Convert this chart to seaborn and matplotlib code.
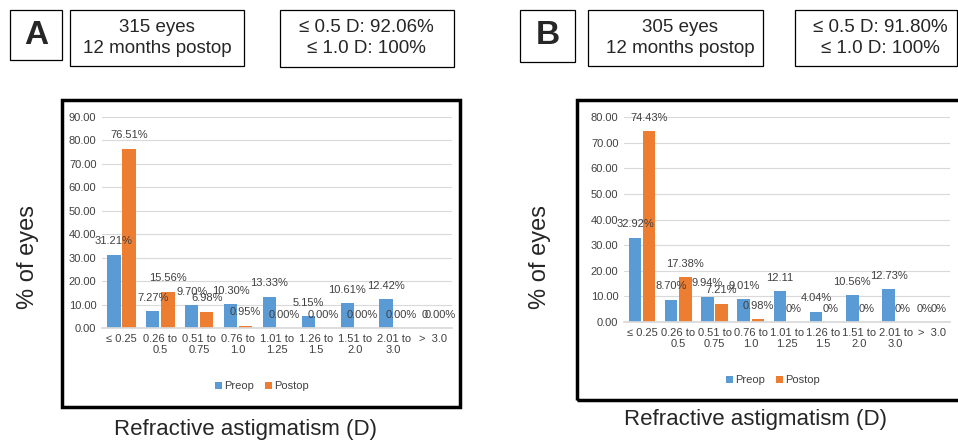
import matplotlib
matplotlib.use("Agg")
import matplotlib.pyplot as plt
from matplotlib.patches import Rectangle
import seaborn as sns
import pandas as pd

# astigmatism ranges (x categories)
ranges = ["≤ 0.25", "0.26 to\n0.5", "0.51 to\n0.75", "0.76 to\n1.0", "1.01 to\n1.25",
          "1.26 to\n1.5", "1.51 to\n2.0", "2.01 to\n3.0", ">  3.0"]

# panel A: 315 eyes
preop_a = [31.21, 7.27, 9.70, 10.30, 13.33, 5.15, 10.61, 12.42, 0.00]
postop_a = [76.51, 15.56, 6.98, 0.95, 0.00, 0.00, 0.00, 0.00, 0.00]
preop_a_labels = ["31.21%", "7.27%", "9.70%", "10.30%", "13.33%", "5.15%", "10.61%", "12.42%", "0"]
postop_a_labels = ["76.51%", "15.56%", "6.98%", "0.95%", "0.00%", "0.00%", "0.00%", "0.00%", "0.00%"]

# panel B: 305 eyes
preop_b = [32.92, 8.70, 9.94, 9.01, 12.11, 4.04, 10.56, 12.73, 0.00]
postop_b = [74.43, 17.38, 7.21, 0.98, 0.00, 0.00, 0.00, 0.00, 0.00]
preop_b_labels = ["32.92%", "8.70%", "9.94%", "9.01%", "12.11", "4.04%", "10.56%", "12.73%", "0%"]
postop_b_labels = ["74.43%", "17.38%", "7.21%", "0.98%", "0%", "0%", "0%", "0%", "0%"]

BLUE = "#5B9BD5"
ORANGE = "#ED7D31"
GRID = "#D9D9D9"
TXT = "#404040"

sns.set_theme(style="white")
plt.rcParams["font.family"] = ["Liberation Sans", "DejaVu Sans"]

W, H = 958, 447
fig = plt.figure(figsize=(W / 100, H / 100), dpi=100)


def px_box(x0, y0, x1, y1):
    # pixel box (top-left origin) -> figure fraction rect
    return [x0 / W, 1 - y1 / H, (x1 - x0) / W, (y1 - y0) / H]


def frame(x0, y0, x1, y1, lw):
    r = px_box(x0, y0, x1, y1)
    fig.patches.append(Rectangle((r[0], r[1]), r[2], r[3], transform=fig.transFigure,
                                 fill=False, edgecolor="black", linewidth=lw))


def draw_panel(ax, preop, postop, pre_lbl, post_lbl, ymax, legend_xy):
    df = pd.DataFrame({
        "range": ranges * 2,
        "pct": preop + postop,
        "group": ["Preop"] * len(ranges) + ["Postop"] * len(ranges),
    })
    sns.barplot(data=df, x="range", y="pct", hue="group", order=ranges,
                hue_order=["Preop", "Postop"], palette=[BLUE, ORANGE], saturation=1,
                width=0.78, gap=0.12, errorbar=None, linewidth=0, ax=ax)
    handles, labels = ax.get_legend_handles_labels()
    ax.get_legend().remove()
    for cont, lbls in zip(ax.containers, [pre_lbl, post_lbl]):
        ax.bar_label(cont, labels=lbls, padding=6, fontsize=8, color=TXT)
    ax.set_xlim(-0.5, len(ranges) - 0.5)
    ax.set_ylim(0, ymax)
    ax.set_yticks(range(0, ymax + 1, 10))
    ax.set_yticklabels([f"{v:.2f}" for v in range(0, ymax + 1, 10)])
    ax.yaxis.grid(True, color=GRID, linewidth=0.8)
    ax.set_axisbelow(True)
    for s in ["top", "right", "left"]:
        ax.spines[s].set_visible(False)
    ax.spines["bottom"].set_color(GRID)
    ax.tick_params(length=0, labelsize=8, colors=TXT, pad=4)
    ax.set_xlabel("")
    ax.set_ylabel("")
    fig.legend(handles, labels, loc="center", bbox_to_anchor=(legend_xy[0] / W, 1 - legend_xy[1] / H),
               ncol=2, frameon=False, fontsize=8, handlelength=0.6, handleheight=0.6,
               handletextpad=0.2, columnspacing=1.0, labelcolor=TXT)


# ---- panel A ----
axA = fig.add_axes(px_box(102, 117, 452, 328))
draw_panel(axA, preop_a, postop_a, preop_a_labels, postop_a_labels, 90, (262, 386))
frame(62, 100, 460, 407, 2.5)

# ---- panel B ----
axB = fig.add_axes(px_box(624, 117, 950, 322))
draw_panel(axB, preop_b, postop_b, preop_b_labels, postop_b_labels, 80, (773, 380))
frame(577, 100, 975, 400, 2.5)

# header boxes
frame(10, 10, 62, 60, 0.9)
frame(70, 10, 244, 66, 0.9)
frame(280, 10, 454, 67, 0.9)
frame(520, 10, 575, 62, 0.9)
frame(588, 10, 763, 66, 0.9)
frame(795, 10, 957, 66, 0.9)


def ftext(x, y, s, **kw):
    fig.text(x / W, 1 - y / H, s, ha="center", va="center", **kw)


ftext(36, 36, "A", fontsize=24, fontweight="bold")
ftext(157, 38, "315 eyes\n12 months postop", fontsize=13.5, linespacing=1.3)
ftext(366, 38, "≤ 0.5 D: 92.06%\n≤ 1.0 D: 100%", fontsize=13.5, linespacing=1.3)
ftext(548, 36, "B", fontsize=24, fontweight="bold")
ftext(680, 38, "305 eyes\n12 months postop", fontsize=13.5, linespacing=1.3)
ftext(880, 38, "≤ 0.5 D: 91.80%\n≤ 1.0 D: 100%", fontsize=13.5, linespacing=1.3)

ftext(28, 257, "% of eyes", fontsize=17, rotation=90)
ftext(540, 257, "% of eyes", fontsize=17, rotation=90)
ftext(245, 430, "Refractive astigmatism (D)", fontsize=16)
ftext(756, 420, "Refractive astigmatism (D)", fontsize=16)

fig.savefig("out.png", dpi=100)
